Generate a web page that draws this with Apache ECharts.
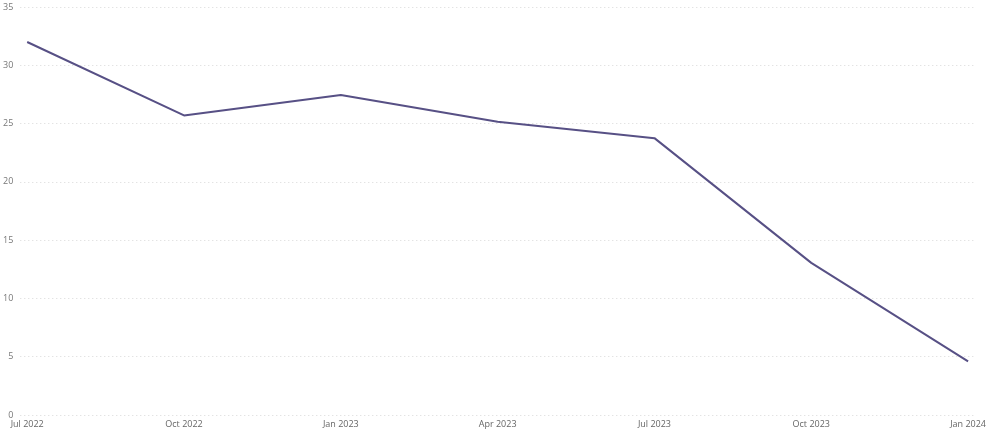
<!DOCTYPE html>
<html><head><meta charset="utf-8">
<script src="https://cdn.jsdelivr.net/npm/echarts@6/dist/echarts.min.js"></script>
<style>html,body{margin:0;padding:0;background:#fff}#c{width:989px;height:432px}</style>
</head><body><div id="c"></div>
<script>
const categories = ['Jul 2022','Oct 2022','Jan 2023','Apr 2023','Jul 2023','Oct 2023','Jan 2024'];
const values = [32.0, 25.7, 27.45, 25.15, 23.75, 13.05, 4.6];
const yTicks = [0,5,10,15,20,25,30,35];

const chart = echarts.init(document.getElementById('c'));
chart.setOption({
  animation: false,
  grid: {left: 18, right: 11, top: 7, bottom: 17, containLabel: false},
  xAxis: {
    type: 'value', min: -0.044, max: 6.038,
    axisLine: {show: false}, axisTick: {show: false}, splitLine: {show: false},
    axisLabel: {
      customValues: categories.map((c, i) => i),
      formatter: v => categories[Math.round(v)],
      color: '#666', fontSize: 9, fontFamily: 'Open Sans', margin: 5
    }
  },
  yAxis: {
    type: 'value', min: 0, max: 35, interval: 5,
    axisLine: {show: false}, axisTick: {show: false},
    splitLine: {lineStyle: {color: '#d8d8d8', type: [1, 3], width: 1}},
    axisLabel: {color: '#777', fontSize: 9, fontFamily: 'Open Sans', margin: 7}
  },
  series: [{
    type: 'line',
    data: values.map((v, i) => [i, v]),
    showSymbol: false,
    lineStyle: {color: '#575085', width: 2},
    itemStyle: {color: '#575085'}
  }]
});
</script></body></html>
